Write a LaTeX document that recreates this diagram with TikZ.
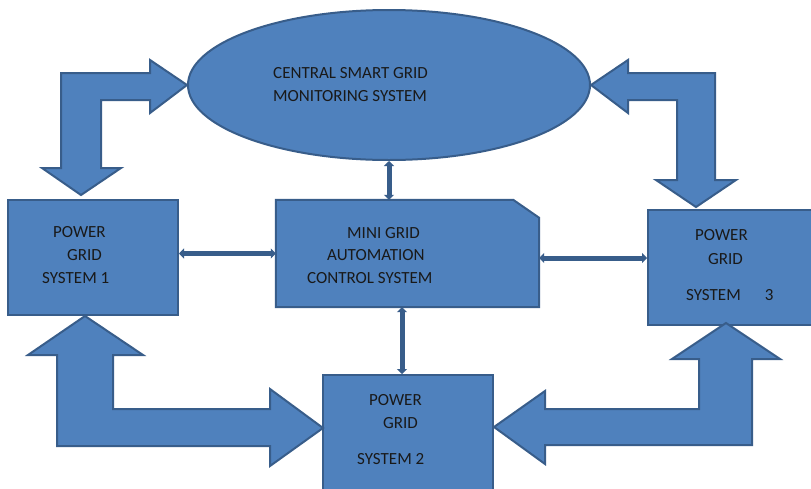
\documentclass[tikz,border=0pt]{standalone}
\usepackage{fontspec}
\setmainfont{Carlito}
\usetikzlibrary{shapes.geometric,arrows.meta,calc}
\definecolor{gridblue}{RGB}{79,129,189}
\definecolor{gridedge}{RGB}{56,93,138}

\begin{document}
\begin{tikzpicture}[x=1pt,y=-1pt,font=\fontsize{17}{20}\selectfont]
      \tikzstyle{box}=[draw=gridedge,fill=gridblue,line width=2pt,inner sep=0pt]
      \tikzstyle{lbl}=[anchor=west,inner sep=0pt,text=black!90]
      \tikzstyle{fat arrow}=[draw=gridedge,fill=gridblue,line width=2pt]
      \tikzstyle{thin arrow}=[draw=gridedge,line width=5pt,{Triangle[width=10pt,length=5pt]}-{Triangle[width=10pt,length=5pt]}]

      \fill[white] (0,0) rectangle (811,488);
      \useasboundingbox (0,0) rectangle (811,488);

      % the blocks
      \node(central)[box,ellipse,minimum width=402pt,minimum height=150pt] at (389,85) {};
      \node(sys1)[box,minimum width=170pt,minimum height=115pt] at (93,257.5) {};
      \node(ctrl)[minimum width=263pt,minimum height=107pt,inner sep=0pt] at (407.5,253.5) {};
      \draw[box] (ctrl.north west) -- ([xshift=-26pt]ctrl.north east) -- ([yshift=-18pt]ctrl.north east)
            -- (ctrl.south east) -- (ctrl.south west) -- cycle;
      \node(sys3)[box,minimum width=182pt,minimum height=115pt] at (739,267.5) {};
      \node(sys2)[box,minimum width=170pt,minimum height=130pt] at (408,440) {};

      % big two-way arrows
      \draw[fat arrow] (central.west) -- ++(-37,-25) -- ++(0,13) -- ++(-89,0) -- ++(0,95) -- ++(-19,0)
            -- ++(39,27) -- ++(40,-27) -- ++(-20,0) -- ++(0,-68) -- ++(49,0) -- ++(0,13) -- cycle;
      \draw[fat arrow] (central.east) -- ++(37,-25) -- ++(0,13) -- ++(87,0) -- ++(0,107) -- ++(21,0)
            -- ++(-40,27) -- ++(-40,-27) -- ++(21,0) -- ++(0,-80) -- ++(-49,0) -- ++(0,13) -- cycle;
      \draw[fat arrow] ([xshift=-8pt]sys1.south) -- ++(58,39) -- ++(-30,0) -- ++(0,54) -- ++(157,0) -- ++(0,-20)
            -- ++(53,39) -- ++(-53,38) -- ++(0,-20) -- ++(-213,0) -- ++(0,-91) -- ++(-29,0) -- cycle;
      \draw[fat arrow] ([yshift=13pt]sys2.east) -- ++(51,-36) -- ++(0,18) -- ++(154,0) -- ++(0,-50) -- ++(-27,0)
            -- ++(54,-36) -- ++(54,36) -- ++(-28,0) -- ++(0,86) -- ++(-207,0) -- ++(0,19) -- cycle;

      % thin links
      \draw[thin arrow] (central.south) -- (central.south |- ctrl.north);
      \draw[thin arrow] ([xshift=-6pt]sys2.north) -- ([xshift=-6pt]sys2.north |- ctrl.south);
      \draw[thin arrow] (ctrl.west -| sys1.east) -- (ctrl.west);
      \draw[thin arrow] ([yshift=-4.5pt]ctrl.east) -- ([yshift=-4.5pt]ctrl.east -| sys3.west);

      % texts
      \node(c1)[lbl] at (273,73) {CENTRAL SMART GRID};
      \node(c2)[lbl] at (273,96) {MONITORING SYSTEM};
      \node(s1a)[lbl] at (53,232) {POWER};
      \node(s1b)[lbl] at (67,255) {GRID};
      \node(s1c)[lbl] at (42,278) {SYSTEM 1};
      \node(m1)[lbl] at (347,233) {MINI GRID};
      \node(m2)[lbl] at (327,255) {AUTOMATION};
      \node(m3)[lbl] at (307,278) {CONTROL SYSTEM};
      \node(s3a)[lbl] at (695,235) {POWER};
      \node(s3b)[lbl] at (708,259) {GRID};
      \node(s3c)[lbl] at (686,295) {SYSTEM\hspace{24pt}3};
      \node(s2a)[lbl] at (369,400) {POWER};
      \node(s2b)[lbl] at (383,423) {GRID};
      \node(s2c)[lbl] at (357,459) {SYSTEM 2};
\end{tikzpicture}
\end{document}
